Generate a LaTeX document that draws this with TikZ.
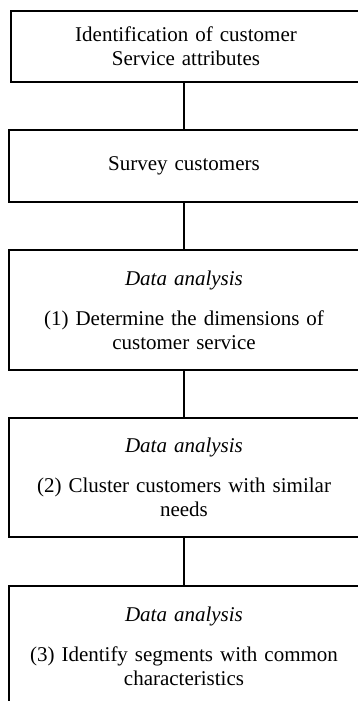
\documentclass[tikz,border=0pt]{standalone}
\usepackage{fontspec}
\setmainfont{Liberation Serif}
\tikzset{
  flowbox/.style={draw, line width=1.1pt, minimum width=350pt, text width=330pt,
    align=center, inner sep=0pt, font=\fontsize{21}{24}\selectfont},
  link/.style={line width=1.1pt},
}
\begin{document}
\begin{tikzpicture}[x=1pt, y=1pt]
        \useasboundingbox (0, 0) rectangle (358, 701);

        \node (ident)   at (186, 654.5) [flowbox, minimum height=71pt]
              {Identification of customer\\Service attributes};
        \node (survey)  at (184, 535.0) [flowbox, minimum height=72pt] {Survey customers};

        \node (dims)    at (184, 391.0) [flowbox, minimum height=120pt]
              {\textit{Data analysis}\\[16pt](1) Determine the dimensions of\\customer service};
        \node (cluster) at (184, 223.5) [flowbox, minimum height=119pt]
              {\textit{Data analysis}\\[16pt](2) Cluster customers with similar\\needs};
        \node (segment) at (184,  55.0) [flowbox, minimum height=120pt]
              {\textit{Data analysis}\\[16pt](3) Identify segments with common\\characteristics};

        \draw [link] (survey.north) -- (survey.north |- ident.south);
        \draw [link] (survey)  -- (dims);
        \draw [link] (dims)    -- (cluster);
        \draw [link] (cluster) -- (segment);
\end{tikzpicture}
\end{document}
